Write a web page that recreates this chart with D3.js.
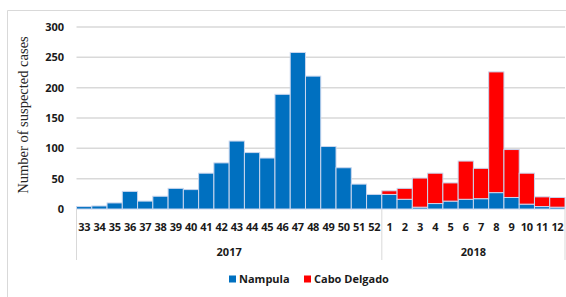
<!DOCTYPE html>
<html>
<head>
<meta charset="utf-8">
<script src="https://cdn.jsdelivr.net/npm/d3@7"></script>
<style>
  body { margin: 0; background: #fff; }
  svg { display: block; }
</style>
</head>
<body>
<svg id="chart" width="566" height="297"></svg>
<script>
// weeks, grouped by year
const weeks2017 = ["33","34","35","36","37","38","39","40","41","42","43","44","45","46","47","48","49","50","51","52"];
const weeks2018 = ["1","2","3","4","5","6","7","8","9","10","11","12"];
const years = ["2017", "2018"];
const series = ["Nampula", "Cabo Delgado"];
const colors = ["#0070c0", "#ff0000"];

const nampula = [4, 5, 10, 29, 13, 21, 34, 32, 59, 76, 112, 93, 84, 189, 258, 219, 103, 68, 41, 24,
                 24, 16, 3, 9, 13, 16, 17, 27, 19, 8, 4, 3];
const caboDelgado = [0, 0, 0, 0, 0, 0, 0, 0, 0, 0, 0, 0, 0, 0, 0, 0, 0, 0, 0, 0,
                     6, 18, 48, 50, 30, 63, 50, 199, 79, 51, 16, 16];
const yTicks = [0, 50, 100, 150, 200, 250, 300];

const svg = d3.select("#chart");
const plotLeft = 76.5, plotRight = 565, plotTop = 27, plotBottom = 209;

const keys = weeks2017.map(w => "2017-" + w).concat(weeks2018.map(w => "2018-" + w));
const labels = weeks2017.concat(weeks2018);
const rows = keys.map((k, i) => ({ key: k, Nampula: nampula[i], "Cabo Delgado": caboDelgado[i] }));

const x = d3.scaleBand().domain(keys).range([plotLeft, plotRight]).padding(0);
const y = d3.scaleLinear().domain([0, 300]).range([plotBottom, plotTop]);

// chart frame
svg.append("path")
  .attr("d", `M7.5,297 V10.5 H566`)
  .attr("fill", "none").attr("stroke", "#d9d9d9").attr("stroke-width", 1);

// gridlines
svg.append("g").selectAll("line").data(yTicks.filter(t => t > 0)).join("line")
  .attr("x1", plotLeft).attr("x2", plotRight)
  .attr("y1", d => y(d)).attr("y2", d => y(d))
  .attr("stroke", "#d9d9d9").attr("stroke-width", 1.5);

// y tick labels
svg.append("g").selectAll("text").data(yTicks).join("text")
  .attr("x", 64).attr("y", d => y(d) + 4)
  .attr("text-anchor", "end")
  .attr("font-family", "'Open Sans', sans-serif").attr("font-weight", "bold")
  .attr("font-size", 11).attr("fill", "#1a1a1a")
  .text(d => d);

// y axis title
svg.append("text")
  .attr("transform", "translate(28,115) rotate(-90)")
  .attr("text-anchor", "middle")
  .attr("font-family", "'Liberation Serif', serif")
  .attr("font-size", 14.5).attr("fill", "#262626")
  .text("Number of suspected cases");

// stacked bars
const stacked = d3.stack().keys(series)(rows);
svg.append("g").selectAll("g").data(stacked).join("g")
  .attr("fill", (d, i) => colors[i])
  .selectAll("rect").data(d => d.filter(p => p[1] > p[0])).join("rect")
  .attr("x", d => x(d.data.key))
  .attr("width", x.bandwidth())
  .attr("y", d => y(d[1]))
  .attr("height", d => y(d[0]) - y(d[1]))
  .attr("stroke", "#c9d6ee").attr("stroke-width", 1);

// category labels
svg.append("g").selectAll("text").data(keys).join("text")
  .attr("x", d => x(d) + x.bandwidth() / 2)
  .attr("y", 231)
  .attr("text-anchor", "middle")
  .attr("font-family", "'Open Sans', sans-serif").attr("font-weight", "bold")
  .attr("font-size", 11).attr("fill", "#1a1a1a").attr("letter-spacing", -0.3)
  .text((d, i) => labels[i]);

// year group separators
const splitX = x("2018-1");
svg.append("g").selectAll("line").data([plotLeft, splitX, plotRight]).join("line")
  .attr("x1", d => d).attr("x2", d => d)
  .attr("y1", plotBottom).attr("y2", 260)
  .attr("stroke", "#d9d9d9").attr("stroke-width", 1);

const yearSpans = [[plotLeft, splitX], [splitX, plotRight]];
svg.append("g").selectAll("text").data(years).join("text")
  .attr("x", (d, i) => (yearSpans[i][0] + yearSpans[i][1]) / 2)
  .attr("y", 256)
  .attr("text-anchor", "middle")
  .attr("font-family", "'Open Sans', sans-serif").attr("font-weight", "bold")
  .attr("font-size", 11).attr("fill", "#1a1a1a")
  .text(d => d);

// legend
const legendX = [229, 304];
const legend = svg.append("g").selectAll("g").data(series).join("g")
  .attr("transform", (d, i) => `translate(${legendX[i]},279)`);
legend.append("rect")
  .attr("x", 0).attr("y", -3.5).attr("width", 7).attr("height", 7)
  .attr("fill", (d, i) => colors[i]);
legend.append("text")
  .attr("x", 10).attr("y", 4)
  .attr("font-family", "'Open Sans', sans-serif").attr("font-weight", "bold")
  .attr("font-size", 11).attr("fill", "#1a1a1a")
  .text(d => d);
</script>
</body>
</html>
